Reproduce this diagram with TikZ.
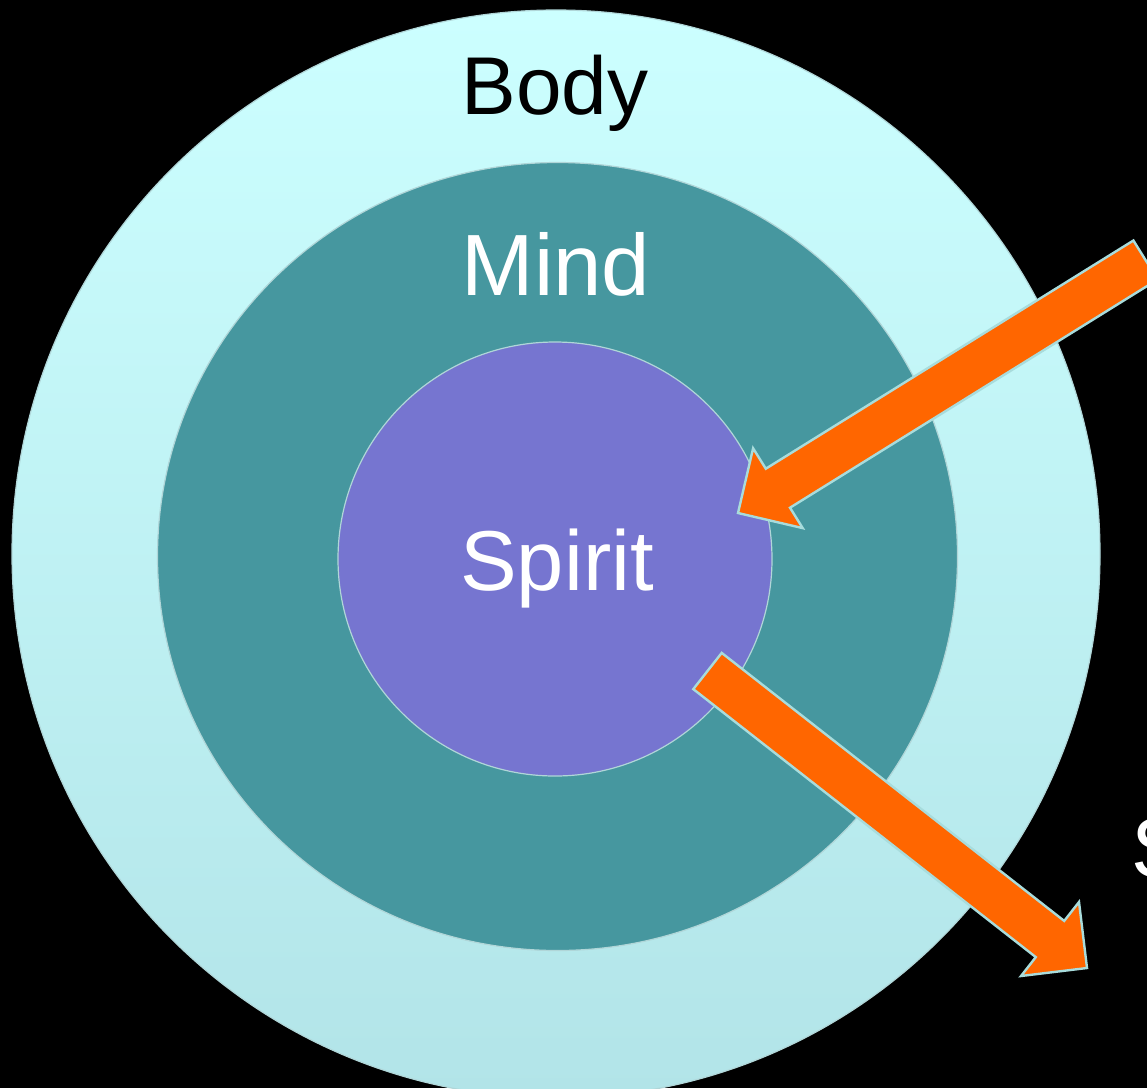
\documentclass[tikz,border=0pt]{standalone}
\usepackage{fontspec}
\setmainfont{Liberation Sans}
\definecolor{bodytop}{RGB}{204,255,255}
\definecolor{bodybot}{RGB}{178,228,232}
\definecolor{mindfill}{RGB}{70,151,159}
\definecolor{spiritfill}{RGB}{118,117,208}
\definecolor{rimline}{RGB}{176,214,216}
\definecolor{arrowfill}{RGB}{255,102,0}
\definecolor{arrowline}{RGB}{168,220,220}
\begin{document}
\begin{tikzpicture}[x=1pt,y=-1pt,
  ring/.style={draw=rimline,line width=1.2pt},
  blockarrow/.style={fill=arrowfill,draw=arrowline,line width=2.4pt,line join=miter},
  label/.style={inner sep=0pt,anchor=base}]
\useasboundingbox (0,0) rectangle (1147,1088);
\clip (0,0) rectangle (1147,1088);
\fill[black] (0,0) rectangle (1147,1088);
% circles
\shade[top color=bodytop,bottom color=bodybot,draw=rimline,line width=1.2pt] (556,554) circle[radius=544];
\filldraw[ring,fill=mindfill] (557.5,556.5) ellipse[x radius=400,y radius=394];
\filldraw[ring,fill=spiritfill] (555,559) circle[radius=217];
% labels
\node[label,text=black,font=\fontsize{82}{98}\selectfont] (body) at (555,114) {Body};
\node[label,text=white,font=\fontsize{87}{104}\selectfont] (mind) at (556,295) {Mind};
\node[label,text=white,font=\fontsize{85}{102}\selectfont] (spirit) at (557,590) {Spirit};
\node[label,text=white,font=\fontsize{85}{102}\selectfont,anchor=base west] (soul) at (1131,877) {S};
% arrow in
\filldraw[blockarrow] (1133.4,240.5) -- (765.8,468.7) -- (753.1,448.3) -- (738,513)
  -- (802.7,528.1) -- (790.0,507.7) -- (1157.6,279.5) -- cycle;
% arrow out
\filldraw[blockarrow] (721.7,652.9) -- (1064.2,920.9) -- (1079,902) -- (1087,968)
  -- (1021,976) -- (1035.8,957.1) -- (693.3,689.1) -- cycle;
\end{tikzpicture}
\end{document}
